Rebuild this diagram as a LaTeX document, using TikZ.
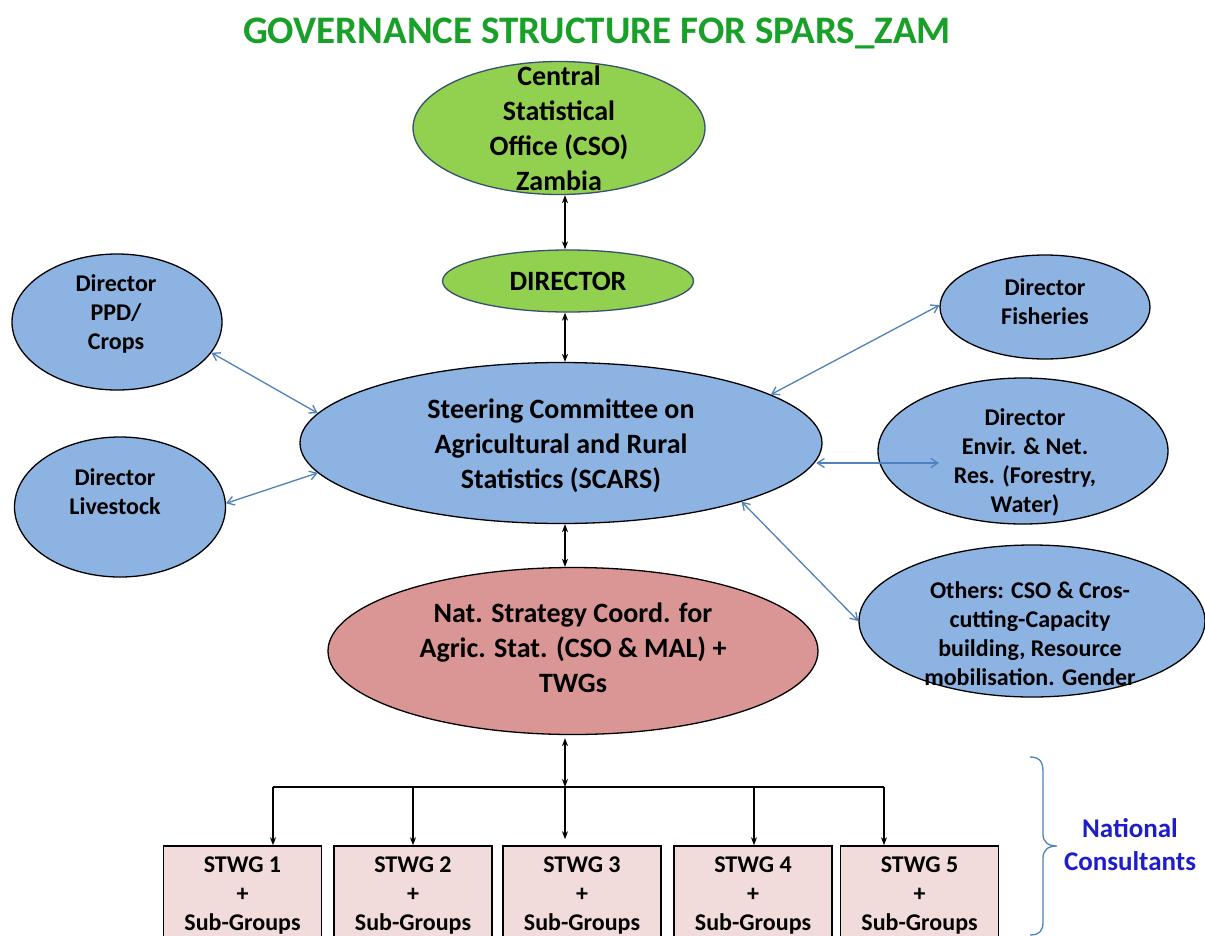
\documentclass[tikz,border=0pt]{standalone}
\usepackage{fontspec}
\setmainfont{Carlito}
\usetikzlibrary{shapes.geometric,arrows.meta,calc}
\definecolor{ttlgreen}{RGB}{24,160,40}
\definecolor{ellgreen}{RGB}{146,208,80}
\definecolor{ellblue}{RGB}{141,179,226}
\definecolor{ellred}{RGB}{217,150,148}
\definecolor{boxpink}{RGB}{242,220,219}
\definecolor{arrblue}{RGB}{79,129,189}
\definecolor{gborder}{RGB}{55,80,110}
\definecolor{ncblue}{RGB}{30,30,200}
\begin{document}
\begin{tikzpicture}[x=1pt,y=-1pt,
  ell/.style={ellipse,draw=black,line width=1.3pt,inner sep=0pt},
  greenell/.style={ell,fill=ellgreen,draw=gborder},
  blueell/.style={ell,fill=ellblue},
  redell/.style={ell,fill=ellred},
  stwgbox/.style={rectangle,draw=black,line width=1.6pt,fill=boxpink,minimum width=158pt,minimum height=110pt,inner sep=0pt},
  bigtxt/.style={align=center,font=\bfseries\fontsize{28}{35}\selectfont,inner sep=0pt},
  smalltxt/.style={align=center,font=\bfseries\fontsize{24}{29}\selectfont,inner sep=0pt},
  blk/.style={line width=1.3pt,{Stealth[length=8pt,width=6pt]}-{Stealth[length=8pt,width=6pt]}},
  blkone/.style={line width=1.3pt,-{Stealth[length=8pt,width=6pt]}},
  blu/.style={draw=arrblue,line width=1.3pt,{Straight Barb[length=7pt,width=9pt]}-{Straight Barb[length=7pt,width=9pt]}}
]
\clip (0,0) rectangle (1205,935);
\fill[white] (0,0) rectangle (1205,935);

% title
\node[font=\bfseries\fontsize{39}{42}\selectfont,text=ttlgreen,inner sep=0pt] (title) at (597,33) {GOVERNANCE STRUCTURE FOR SPARS\_ZAM};

% central column
\node[greenell,minimum width=292pt,minimum height=133pt] (cso) at (559,128) {};
\node[bigtxt] at (559,128) {Central\\Statistical\\Office (CSO)\\Zambia};
\node[greenell,minimum width=251pt,minimum height=62pt] (dir) at (568,281) {};
\node[bigtxt] at (568,281) {DIRECTOR};
\node[blueell,minimum width=522pt,minimum height=161pt] (scars) at (561,443) {};
\node[bigtxt] at (561,446) {Steering Committee on\\Agricultural and Rural\\Statistics (SCARS)};
\node[redell,minimum width=490pt,minimum height=167pt] (nat) at (573,651) {};
\node[bigtxt] at (573,648) {Nat. Strategy Coord. for\\Agric. Stat. (CSO \& MAL) +\\TWGs};

% side ellipses
\node[blueell,minimum width=210pt,minimum height=136pt] (ppd) at (117,322) {};
\node[smalltxt] at (116,314) {Director\\PPD/\\Crops};
\node[blueell,minimum width=211pt,minimum height=140pt] (liv) at (120,507) {};
\node[smalltxt] at (115,492) {Director\\Livestock};
\node[blueell,minimum width=210pt,minimum height=104pt] (fish) at (1045,307) {};
\node[smalltxt] at (1045,302) {Director\\Fisheries};
\node[blueell,minimum width=290pt,minimum height=146pt] (env) at (1023,451) {};
\node[smalltxt] at (1025,462) {Director\\Envir. \& Net.\\Res. (Forestry,\\Water)};
\node[blueell,minimum width=346pt,minimum height=152pt] (oth) at (1032,621) {};
\node[smalltxt] at (1030,634) {Others: CSO \& Cros-\\cutting-Capacity\\building, Resource\\mobilisation. Gender};

% boxes
\node[stwgbox] (s1) at (242.5,901) {};
\node[stwgbox] (s2) at (413,901) {};
\node[stwgbox] (s3) at (582,901) {};
\node[stwgbox] (s4) at (753,901) {};
\node[stwgbox] (s5) at (919.5,901) {};
\foreach \n/\x in {1/242.5,2/413,3/582,4/753,5/919.5}
  \node[smalltxt] at (\x,896) {STWG \n\\+\\Sub-Groups};

% spine and bus
\coordinate (spine) at (565,0);
\coordinate (b1) at (273,787);
\coordinate (b2) at (413,787);
\coordinate (b3) at (565,787);
\coordinate (b4) at (754,787);
\coordinate (b5) at (884,787);

\draw[blk] (cso.south -| spine) -- (dir.north -| spine);
\draw[blk] (dir.south -| spine) -- (scars.north -| spine);
\draw[blk] (scars.south -| spine) -- (nat.north -| spine);
\draw[blk] ($(nat.south -| spine)+(0,3)$) -- (b3);
\draw[line width=1.3pt] (b1) -- (b5);
\draw[blkone] (b1) -- (b1 |- s1.north);
\draw[blkone] (b2) -- (b2 |- s2.north);
\draw[blkone] (b3) -- ($(b3 |- s3.north)+(0,-6)$);
\draw[blkone] (b4) -- (b4 |- s4.north);
\draw[blkone] (b5) -- (b5 |- s5.north);

% blue links
\coordinate (envin) at (939,463);
\draw[blu] (ppd.-18) -- (scars.173);
\draw[blu] (liv.2) -- (scars.187);
\draw[blu] (scars.13) -- (fish.179);
\draw[blu] (scars.-4 |- envin) -- (envin);
\draw[blu] (scars.-18) -- (oth.180);

% brace
\draw[arrblue,line width=1.3pt] (1030,757) .. controls (1040,757) and (1043,762) .. (1043,772)
  -- (1043,834) .. controls (1043,842) and (1048,846) .. (1057,846)
  .. controls (1048,846) and (1043,850) .. (1043,858)
  -- (1043,922) .. controls (1043,930) and (1040,935) .. (1030,935);
\node[align=center,font=\bfseries\fontsize{27}{33}\selectfont,inner sep=0pt,text=ncblue] (nc) at (1130,845) {National\\Consultants};
\end{tikzpicture}
\end{document}
